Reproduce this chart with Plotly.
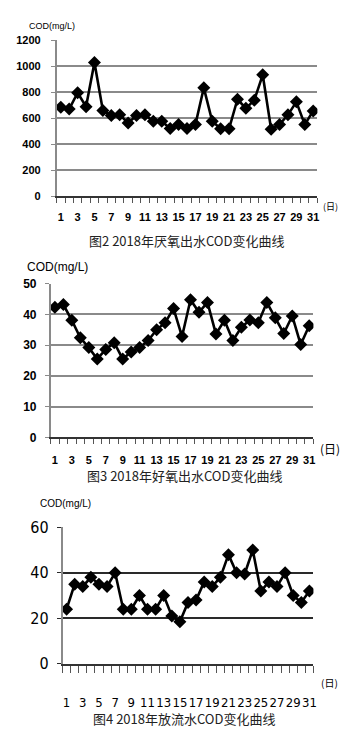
import plotly.graph_objects as go

W, H = 360, 745
OFF = 8  # page body margin offset in the browser

days = list(range(1, 32))
odd_days = list(range(1, 32, 2))

anaerobic = [685, 672, 797, 690, 1030, 660, 622, 627, 565, 622, 627, 577, 577, 522, 552,
             522, 552, 835, 577, 520, 520, 747, 677, 740, 935, 517, 552, 627, 727, 552, 657]
aerobic = [42.3, 43.2, 38.1, 32.4, 29.2, 25.5, 28.6, 30.8, 25.5, 27.8, 29.2, 31.5, 35.0, 37.3, 41.9,
           32.8, 44.8, 40.7, 43.9, 33.6, 38.1, 31.5, 35.8, 38.2, 37.3, 43.9, 38.9, 33.8, 39.5, 30.2, 36.3]
discharge = [24, 35, 34, 38, 35, 34, 40, 24, 24, 30, 24, 24, 30, 21, 18.5,
             27, 28, 36, 34, 38, 48, 40, 39.5, 50, 32, 36, 34, 40, 30, 27, 32]

captions = ["图2 2018年厌氧出水COD变化曲线", "图3 2018年好氧出水COD变化曲线", "图4 2018年放流水COD变化曲线"]
y_ticks = [[0, 200, 400, 600, 800, 1000, 1200], [0, 10, 20, 30, 40, 50], [0, 20, 40, 60]]
y_ranges = [[0, 1200], [0, 50], [0, 60]]
series = [anaerobic, aerobic, discharge]

# target pixel geometry in the screenshot: (x_left, x_right, y_bottom, y_top)
geo = [(57, 320, 192, 32), (51, 316, 439.3, 281.7), (63, 316, 671.7, 531.7)]


def px(x):
    return (x - OFF) / W


def py(y):
    return 1 - (y - OFF) / H


fig = go.Figure()

x_fonts = [
    dict(family="Liberation Sans, Arial", size=11, color="black", weight="bold"),
    dict(family="Liberation Sans, Arial", size=11, color="black", weight="bold"),
    dict(family="Liberation Sans Narrow, DejaVu Sans Condensed, Arial Narrow", size=13, color="black"),
]
y_fonts = [
    dict(family="Liberation Sans, Arial", size=11, color="black", weight="bold"),
    dict(family="Liberation Sans, Arial", size=12, color="black", weight="bold"),
    dict(family="Liberation Sans Narrow, DejaVu Sans Condensed, Arial Narrow", size=16, color="black"),
]
grid_colors = ["#8a8a8a", "#8a8a8a", "#2a2a2a"]
xl_standoff = [10, 12, 26]
yl_standoff = [8, 6, 5]

for i in range(3):
    xl, xr, yb, yt = geo[i]
    xa = "xaxis" if i == 0 else f"xaxis{i+1}"
    ya = "yaxis" if i == 0 else f"yaxis{i+1}"
    xr_ref = "x" if i == 0 else f"x{i+1}"
    yr_ref = "y" if i == 0 else f"y{i+1}"
    fig.add_trace(go.Scatter(
        x=days, y=series[i], mode="lines+markers",
        line=dict(color="black", width=2.6),
        marker=dict(symbol="diamond", size=10, color="black"),
        xaxis=xr_ref, yaxis=yr_ref, showlegend=False, hoverinfo="skip"))
    fig.layout[xa] = dict(
        domain=[px(xl), px(xr)], anchor=yr_ref, range=[0.5, 31.5],
        tickvals=odd_days, ticktext=[str(d) for d in odd_days], tickangle=0,
        ticks="", showgrid=False, zeroline=False,
        showline=True, linecolor="#333333", linewidth=1.5,
        tickfont=x_fonts[i], ticklabelstandoff=xl_standoff[i],
        minor=dict(tick0=0.5, dtick=1, ticks="outside", ticklen=5 if i < 2 else 7,
                   tickcolor="#555555", tickwidth=1.2, showgrid=False),
        fixedrange=True)
    fig.layout[ya] = dict(
        domain=[py(yb), py(yt)], anchor=xr_ref, range=y_ranges[i],
        tickvals=y_ticks[i], ticks="outside", ticklen=4, tickcolor=grid_colors[i],
        showgrid=True, gridcolor=grid_colors[i], gridwidth=1.5,
        zeroline=False, showline=True, linecolor="#8a8a8a", linewidth=1.5,
        tickfont=y_fonts[i], ticklabelstandoff=yl_standoff[i], fixedrange=True)

# annotations: unit labels, day labels, captions
unit_pos = [(52, 17, 9), (58, 265, 12), (66, 507, 10)]
for (x, y, s) in unit_pos:
    fig.add_annotation(x=px(x), y=py(y), xref="paper", yref="paper", text="COD(mg/L)",
                       showarrow=False, font=dict(family="Liberation Sans, Arial", size=s, color="black"),
                       xanchor="center", yanchor="middle")

day_pos = [(333, 202, 9), (333, 451, 12), (332, 691, 10)]
for (x, y, s) in day_pos:
    fig.add_annotation(x=px(x), y=py(y), xref="paper", yref="paper", text="(日)",
                       showarrow=False, font=dict(family="Noto Sans CJK SC", size=s, color="black"),
                       xanchor="center", yanchor="middle")

cap_pos = [(188, 237), (186, 479), (185, 728)]
for (x, y), t in zip(cap_pos, captions):
    fig.add_annotation(x=px(x), y=py(y), xref="paper", yref="paper", text=t,
                       showarrow=False, font=dict(family="Noto Sans CJK SC", size=13, color="#222222"),
                       xanchor="center", yanchor="middle")

fig.update_layout(width=W, height=H, margin=dict(l=0, r=0, t=0, b=0),
                  paper_bgcolor="white", plot_bgcolor="white")

fig.write_html("out.html", config={"displayModeBar": False})
